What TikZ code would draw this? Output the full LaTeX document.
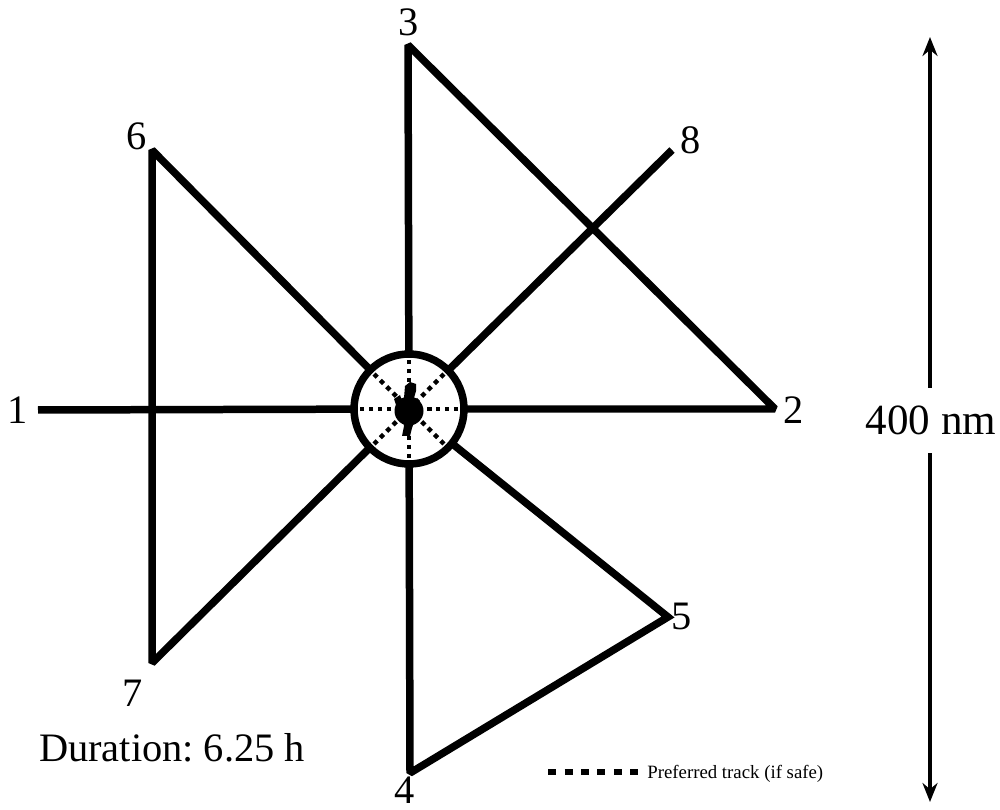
\documentclass[tikz,border=0pt]{standalone}
\usepackage{fontspec}
\setmainfont{Liberation Serif}
\usetikzlibrary{arrows.meta}

\begin{document}
\frenchspacing
\begin{tikzpicture}[x=0.02cm, y=-0.02cm, font=\fontsize{23}{27}\selectfont,
    track/.style={line width=0.15cm, line join=miter, miter limit=2},
    spoke/.style={line width=0.09cm, dash pattern=on 0.09cm off 0.09cm},
    pref/.style={line width=0.12cm, dash pattern=on 0.16cm off 0.17cm},
    scalebar/.style={line width=0.09cm, -{Stealth[length=0.38cm, width=0.3cm]}},
    lbl/.style={inner sep=0pt}]

    \useasboundingbox (0,0) rectangle (1000,810);

    % --- Waypoints ---
    \coordinate (p1) at (38,410);
    \coordinate (p2) at (775,409);
    \coordinate (p3) at (408,45);
    \coordinate (p4) at (410,773);
    \coordinate (p5) at (668,617);
    \coordinate (p6) at (152,150);
    \coordinate (p7) at (152,663);
    \coordinate (p8) at (672,150);

    % --- Hub (start / end point) ---
    \node[circle, draw, line width=0.15cm, minimum size=2.2cm, inner sep=0pt, outer sep=0pt] (hub) at (409,409) {};

    % dotted spokes inside the hub
    \foreach \a in {0,45,...,315}
      \draw[spoke] (hub.center) -- (hub.\a);

    % centre mark
    \fill (409,411) circle[radius=0.29cm];
    \fill (404,398) -- (405,386) -- (410,382) -- (416,384) -- (416,391) -- (414,398) -- cycle;
    \fill (403,420) -- (415,420) -- (412,428) -- (410,436) -- (402,436) -- (404,426) -- cycle;
    \fill (394,399) -- (400,395) -- (403,404) -- (396,405) -- cycle;

    % --- Track legs ---
    \draw[track] (p1) -- (hub);
    \draw[track] (hub) -- (p3) -- (p2) -- (hub);
    \draw[track] (hub) -- (p6) -- (p7) -- (hub);
    \draw[track] (hub) -- (p4) -- (p5) -- (hub);
    \draw[track] (hub) -- (p8);

    % --- Waypoint labels ---
    \node[lbl] (l1) at (18,410) {1};
    \node[lbl] (l2) at (794,410) {2};
    \node[lbl] (l3) at (409,22) {3};
    \node[lbl] (l4) at (405,790) {4};
    \node[lbl] (l5) at (682,616) {5};
    \node[lbl] (l6) at (137,136) {6};
    \node[lbl] (l7) at (133,693) {7};
    \node[lbl] (l8) at (691,140) {8};

    % --- Scale bar ---
    \node[lbl, font=\fontsize{24.5}{28}\selectfont] (scale) at (931,420) {400 nm};
    \coordinate (barTop) at (930,37);
    \coordinate (barA) at (930,388);
    \coordinate (barB) at (930,453);
    \coordinate (barBot) at (930,802);
    \draw[scalebar] (barA) -- (barTop);
    \draw[scalebar] (barB) -- (barBot);

    % --- Duration and legend ---
    \node[lbl] (dur) at (172,748) {Duration: 6.25 h};
    \coordinate (legA) at (548,772);
    \coordinate (legB) at (640,772);
    \draw[pref] (legA) -- (legB);
    \node[lbl, anchor=west, font=\fontsize{10.7}{13}\selectfont] (legtxt) at (647,774) {Preferred track (if safe)};

\end{tikzpicture}
\end{document}
